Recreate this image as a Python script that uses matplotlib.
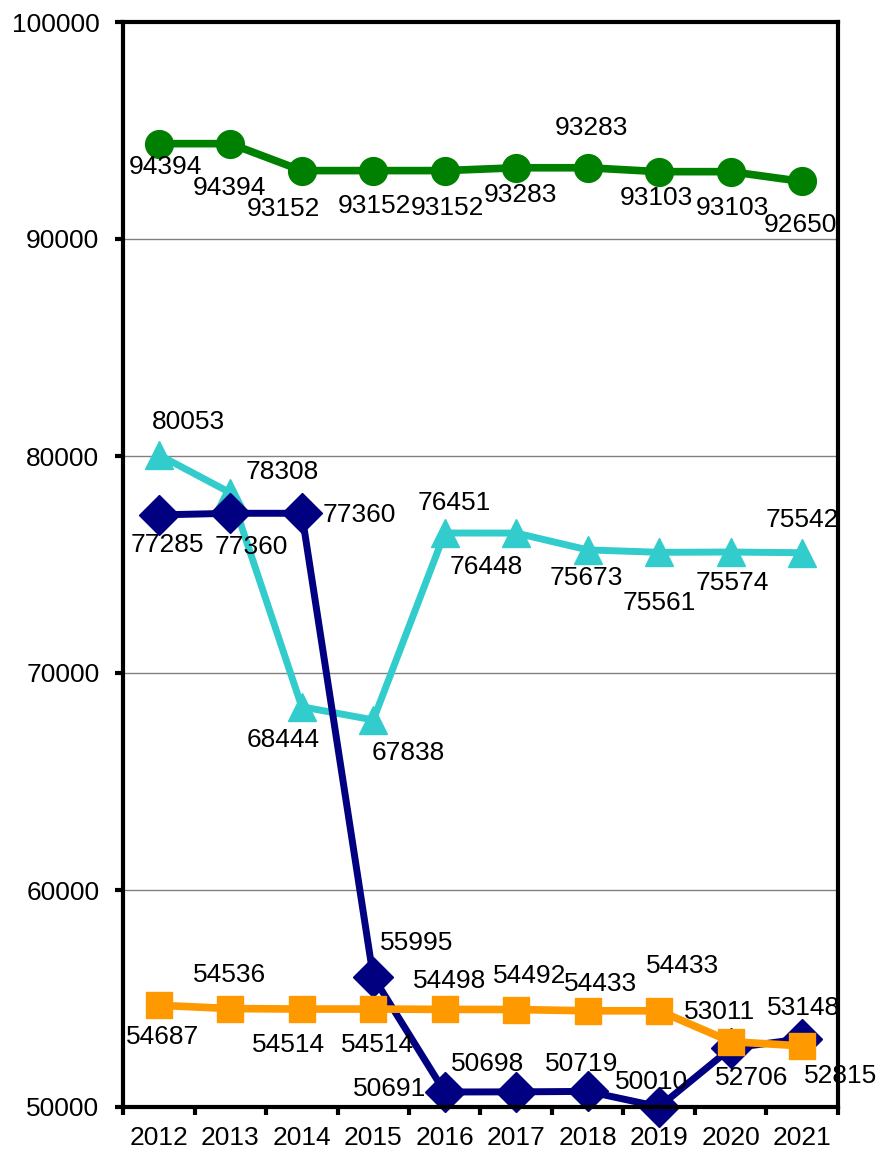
import matplotlib
matplotlib.use("Agg")
import matplotlib.pyplot as plt
from matplotlib.ticker import FixedLocator

plt.rcParams['font.family'] = ['Liberation Sans', 'DejaVu Sans']

# data
years = ['2012', '2013', '2014', '2015', '2016', '2017', '2018', '2019', '2020', '2021']
green_vals = [94394, 94394, 93152, 93152, 93152, 93283, 93283, 93103, 93103, 92650]
cyan_vals = [80053, 78308, 68444, 67838, 76451, 76448, 75673, 75561, 75574, 75542]
navy_vals = [77285, 77360, 77360, 55995, 50691, 50698, 50719, 50010, 52706, 53148]
orange_vals = [54687, 54536, 54514, 54514, 54498, 54492, 54433, 54433, 53011, 52815]

# label offsets in pixels (dx right, dy down) relative to each marker
green_off = [(7, 23), (-1, 44), (-18, 38), (1, 35), (3, 37), (4, 27), (4, -40), (-3, 26), (2, 36), (-2, 44)]
cyan_off = [(30, -33), (52, -21), (-19, 33), (35, 33), (10, -30), (-30, 34), (-1, 28), (0, 51), (2, 31), (0, -33)]
navy_off = [(9, 30), (21, 34), (58, 2), (43, -34), (-55, -3), (-29, -28), (-6, -27), (-8, -25), (21, 30), (1, -31)]
orange_off = [(4, 32), (-1, -34), (-13, 36), (4, 36), (5, -28), (13, -34), (13, -27), (23, -45), (-11, -30), (38, 30)]

series = [
    (cyan_vals, cyan_off, '#33CCCC', '^', 20, 5),
    (navy_vals, navy_off, '#000080', 'D', 20, 5),
    (orange_vals, orange_off, '#FF9900', 's', 19, 5.5),
    (green_vals, green_off, '#008000', 'o', 20, 5.5),
]

fig = plt.figure(figsize=(8.81, 11.54), dpi=100)
ax = fig.add_axes([123 / 881, 1 - 1107 / 1154, (838 - 123) / 881, (1107 - 22) / 1154])

x = list(range(len(years)))
for vals, offs, color, marker, ms, lw in series:
    ax.plot(x, vals, color=color, marker=marker, markersize=ms, linewidth=lw,
            markeredgecolor=color, clip_on=False)

for vals, offs, color, marker, ms, lw in series:
    for xi, v, (dx, dy) in zip(x, vals, offs):
        ax.annotate(str(v), (xi, v), xytext=(dx, -dy), textcoords='offset pixels',
                    ha='center', va='center', fontsize=19, color='black', zorder=10,
                    annotation_clip=False)

ax.set_xlim(-0.5, len(years) - 0.5)
ax.set_ylim(50000, 100000)
ax.set_yticks([50000, 60000, 70000, 80000, 90000, 100000])
ax.set_yticklabels(['50000', '60000', '70000', '80000', '90000', '100000'])
ax.yaxis.grid(True, color='#808080', linewidth=1)
ax.set_axisbelow(True)

ax.xaxis.set_major_locator(FixedLocator([i - 0.5 for i in range(len(years) + 1)]))
ax.xaxis.set_minor_locator(FixedLocator(x))
ax.set_xticklabels([], minor=False)
ax.set_xticklabels(years, minor=True)
ax.tick_params(axis='x', which='major', direction='out', length=6, width=3, labelbottom=False)
ax.tick_params(axis='x', which='minor', length=0, pad=14, labelsize=19)
ax.tick_params(axis='y', direction='out', length=6, width=3, pad=11, labelsize=19)

for side in ['left', 'right', 'top', 'bottom']:
    ax.spines[side].set_linewidth(3)
    ax.spines[side].set_color('black')

fig.savefig('out.png', dpi=100)
